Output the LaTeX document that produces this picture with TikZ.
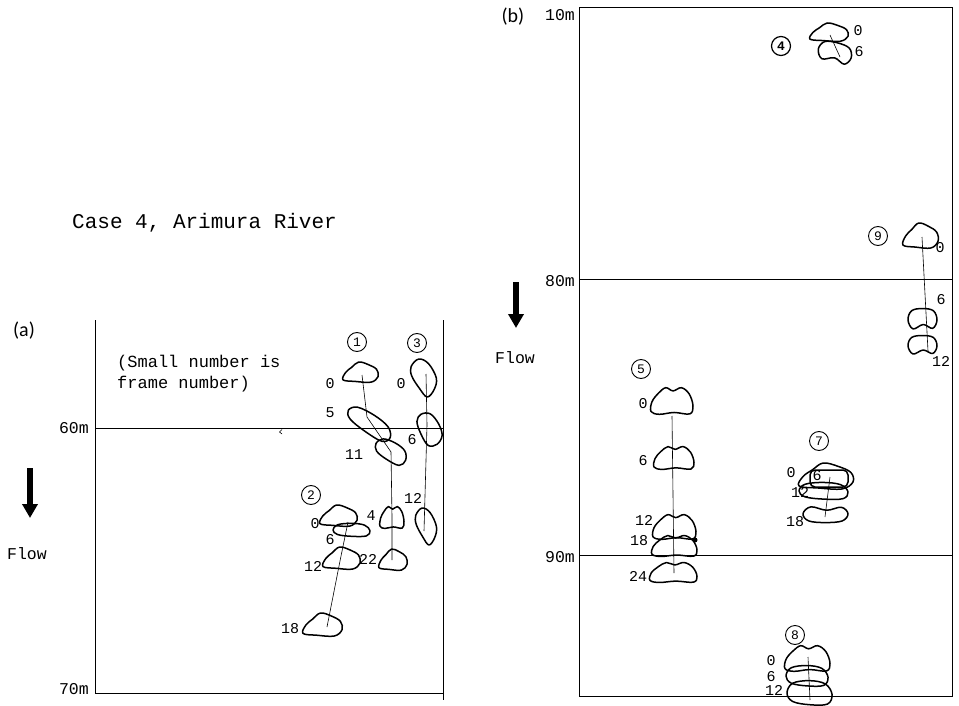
\documentclass[tikz,border=0pt]{standalone}
\usepackage{fontspec}
\setmainfont{Liberation Mono}
\newfontfamily\labfont{Carlito}
\usetikzlibrary{arrows.meta}
\tikzset{
  stone/.style={line width=1.5pt, line join=round},
  mound/.pic={\draw[stone] plot[smooth cycle, tension=0.6] coordinates {(-1,0.75) (-0.95,0.05) (-0.65,-0.55) (-0.3,-0.95) (0.05,-0.72) (0.45,-0.95) (0.82,-0.5) (1,0.35) (0.85,0.92) (0.1,0.82) (-0.6,0.95)};},
  blob/.pic={\draw[stone] plot[smooth cycle, tension=0.6] coordinates {(-1,0.7) (-0.85,0) (-0.5,-0.5) (-0.1,-1) (0.45,-0.75) (0.92,-0.3) (1,0.4) (0.6,0.92) (-0.3,0.85)};},
  pear/.pic={\draw[stone] plot[smooth cycle, tension=0.6] coordinates {(-0.85,-0.6) (-0.3,-1) (0.4,-0.75) (0.95,0) (0.8,0.6) (0.3,1) (-0.25,0.55) (-0.8,-0.1)};},
  oval/.pic={\draw[stone] plot[smooth cycle, tension=0.6] coordinates {(-1,0) (-0.75,-0.75) (0,-0.95) (0.7,-0.7) (1,0.1) (0.8,0.85) (0,0.9) (-0.75,0.65)};},
  bean/.pic={\draw[stone] plot[smooth cycle, tension=0.6] coordinates {(-1,0.1) (-0.75,-0.75) (0,-0.95) (0.75,-0.75) (1,0.1) (0.7,0.85) (0.05,0.5) (-0.65,0.9)};},
}
\begin{document}
\begin{tikzpicture}[x=1pt,y=-1pt,
  frameline/.style={line width=0.9pt},
  track/.style={line width=0.6pt},
  fr/.style={font=\fontsize{15}{15}\selectfont, inner sep=0pt},
  axl/.style={font=\fontsize{16.5}{16.5}\selectfont, inner sep=0pt, anchor=east},
  circ/.style={circle, draw, line width=0.9pt, inner sep=0pt, minimum size=19pt, font=\fontsize{13}{13}\selectfont},
  flowarrow/.style={line width=6pt, -{Triangle[width=15pt,length=14pt]}},
  txt/.style={inner sep=0pt},
]
\useasboundingbox (0,0) rectangle (959,706);

% titles and labels
\node[txt, anchor=base west, font=\fontsize{21}{21}\selectfont] (title) at (72,229) {Case 4, Arimura River};
\node[txt, anchor=base west, font=\fontsize{17}{17}\selectfont] (note1) at (117,367) {(Small number is};
\node[txt, anchor=base west, font=\fontsize{17}{17}\selectfont] (note2) at (117,388) {frame number)};
\node[txt, font=\labfont\fontsize{20}{20}\selectfont] (lblA) at (24,331) {(a)};
\node[txt, font=\labfont\fontsize{20}{20}\selectfont] (lblB) at (513,17) {(b)};

% panel (a) frame
\draw[frameline] (95,320) -- (95,693) -- (443,693);
\draw[frameline] (443,320) -- (443,700);
\draw[frameline] (95,428) -- (443,428);
\draw[line width=0.6pt] (282,429.5) -- (279.5,432) -- (282,434);
\node[axl] (y60) at (89,428) {60m};
\node[axl] (y70) at (89,689) {70m};
\coordinate (fa1) at (30,468); \coordinate (fa2) at (30,518);
\draw[flowarrow] (fa1) -- (fa2);
\node[txt, font=\fontsize{16.5}{16.5}\selectfont] (flowA) at (27,554) {Flow};

% panel (b) frame
\draw[frameline] (579,7) rectangle (952,696);
\draw[frameline] (579,279) -- (952,279);
\draw[frameline] (579,555) -- (952,555);
\node[axl] (y10) at (575,15) {10m};
\node[axl] (y80) at (575,281) {80m};
\node[axl] (y90) at (575,557) {90m};
\coordinate (fb1) at (516,282); \coordinate (fb2) at (516,328);
\draw[flowarrow] (fb1) -- (fb2);
\node[txt, font=\fontsize{16.5}{16.5}\selectfont] (flowB) at (515,358) {Flow};

% ---------- stone 1 ----------
\node[circ] (c1) at (357,342) {1};
\pic[xscale=17.5, yscale=10.5] at (360.5,372.5) {blob};
\pic[rotate=-32, xscale=25, yscale=10] at (369.5,423.5) {oval};
\pic[rotate=-28, xscale=17, yscale=10] at (391,451.5) {oval};
\pic[xscale=12, yscale=11.5] at (392,517.5) {mound};
\pic[xscale=14, yscale=11] at (393,560) {blob};
\coordinate (t1a) at (362,375); \coordinate (t1b) at (367,417);
\coordinate (t1c) at (391,452); \coordinate (t1d) at (392,517); \coordinate (t1e) at (392,560);
\draw[track] (t1a) -- (t1b) -- (t1c) -- (t1d) -- (t1e);
\node[fr] (f1a) at (330,384) {0};
\node[fr] (f1b) at (330,413) {5};
\node[fr] (f1c) at (354,455) {11};
\node[fr] (f1d) at (371,516) {4};
\node[fr] (f1e) at (368,559) {22};

% ---------- stone 3 ----------
\node[circ] (c3) at (417,343) {3};
\pic[xscale=14, yscale=19] at (423,378) {pear};
\pic[rotate=-60, xscale=17, yscale=11] at (429.5,429) {oval};
\pic[xscale=11.5, yscale=18.5] at (425.5,526.5) {pear};
\coordinate (t3a) at (426,374); \coordinate (t3b) at (427,425); \coordinate (t3c) at (424,531);
\draw[track] (t3a) -- (t3b) -- (t3c);
\node[fr] (f3a) at (401,384) {0};
\node[fr] (f3b) at (412,440) {6};
\node[fr] (f3c) at (413,498) {12};

% ---------- stone 2 ----------
\node[circ] (c2) at (311,495) {2};
\pic[xscale=18.5, yscale=11] at (338.5,516) {blob};
\pic[xscale=18.5, yscale=7] at (351.5,530) {oval};
\pic[xscale=18.5, yscale=11.5] at (341.5,558.5) {blob};
\pic[xscale=19.5, yscale=12] at (322.5,625) {blob};
\coordinate (t2a) at (348,522); \coordinate (t2b) at (340,561); \coordinate (t2c) at (327,627);
\draw[track] (t2a) -- (t2b) -- (t2c);
\node[fr] (f2a) at (315,524) {0};
\node[fr] (f2b) at (330,540) {6};
\node[fr] (f2c) at (313,566) {12};
\node[fr] (f2d) at (290,629) {18};

% ---------- stone 4 ----------
\node[circ, line width=1.2pt, font=\bfseries\fontsize{13}{13}\selectfont] (c4) at (781,46) {4};
\pic[xscale=19, yscale=9.5] at (829,32.5) {blob};
\pic[rotate=-15, xscale=17, yscale=10.5] at (835,52.5) {bean};
\coordinate (t4a) at (830,35); \coordinate (t4b) at (840,57);
\draw[track] (t4a) -- (t4b);
\node[fr] (f4a) at (858,31) {0};
\node[fr] (f4b) at (859,52) {6};

% ---------- stone 9 ----------
\node[circ] (c9) at (878,236) {9};
\pic[xscale=17.5, yscale=13] at (920.5,236) {blob};
\pic[xscale=14.5, yscale=11] at (922.5,319) {bean};
\pic[xscale=14.5, yscale=10] at (922.5,345) {bean};
\coordinate (t9a) at (922,237); \coordinate (t9b) at (928,351);
\draw[track] (t9a) -- (t9b);
\node[fr] (f9a) at (940,248) {0};
\node[fr] (f9b) at (941,300) {6};
\node[fr] (f9c) at (941,361) {12};

% ---------- stone 5 ----------
\node[circ] (c5) at (641,369) {5};
\pic[xscale=21, yscale=14] at (672,401) {mound};
\pic[xscale=20, yscale=12] at (674,458) {mound};
\pic[xscale=21.5, yscale=13] at (674.5,527) {mound};
\pic[xscale=22.5, yscale=11] at (674.5,546) {mound};
\pic[xscale=23.5, yscale=10.5] at (673.5,572.5) {mound};
\coordinate (t5a) at (672,416); \coordinate (t5b) at (674,573);
\draw[track] (t5a) -- (t5b);
\fill (695,540) circle (2.5pt);
\node[fr] (f5a) at (643,404) {0};
\node[fr] (f5b) at (643,461) {6};
\node[fr] (f5c) at (644,520) {12};
\node[fr] (f5d) at (639,541) {18};
\node[fr] (f5e) at (638,576) {24};

% ---------- stone 7 ----------
\node[circ] (c7) at (819,441) {7};
\pic[xscale=27, yscale=13.5] at (826,476.5) {blob};
\draw[stone, rounded corners=5pt] (810,470) rectangle (848,487);
\pic[xscale=24.5, yscale=9] at (823.5,491) {oval};
\pic[xscale=22.5, yscale=-8.5] at (825.5,514.5) {bean};
\coordinate (t7a) at (830,477); \coordinate (t7b) at (825,517);
\draw[track] (t7a) -- (t7b);
\node[fr] (f7b) at (817,476) {6};
\node[fr] (f7a) at (791,473) {0};
\node[fr] (f7c) at (800,492) {12};
\node[fr] (f7d) at (795,522) {18};

% ---------- stone 8 ----------
\node[circ] (c8) at (795,635) {8};
\pic[xscale=22.5, yscale=13.5] at (807.5,658.5) {mound};
\pic[xscale=21, yscale=11] at (807,676) {oval};
\pic[xscale=22.5, yscale=13] at (809.5,693) {oval};
\coordinate (t8a) at (808,657); \coordinate (t8b) at (810,700);
\draw[track] (t8a) -- (t8b);
\node[fr] (f8a) at (771,661) {0};
\node[fr] (f8b) at (771,677) {6};
\node[fr] (f8c) at (774,690) {12};
\end{tikzpicture}
\end{document}
